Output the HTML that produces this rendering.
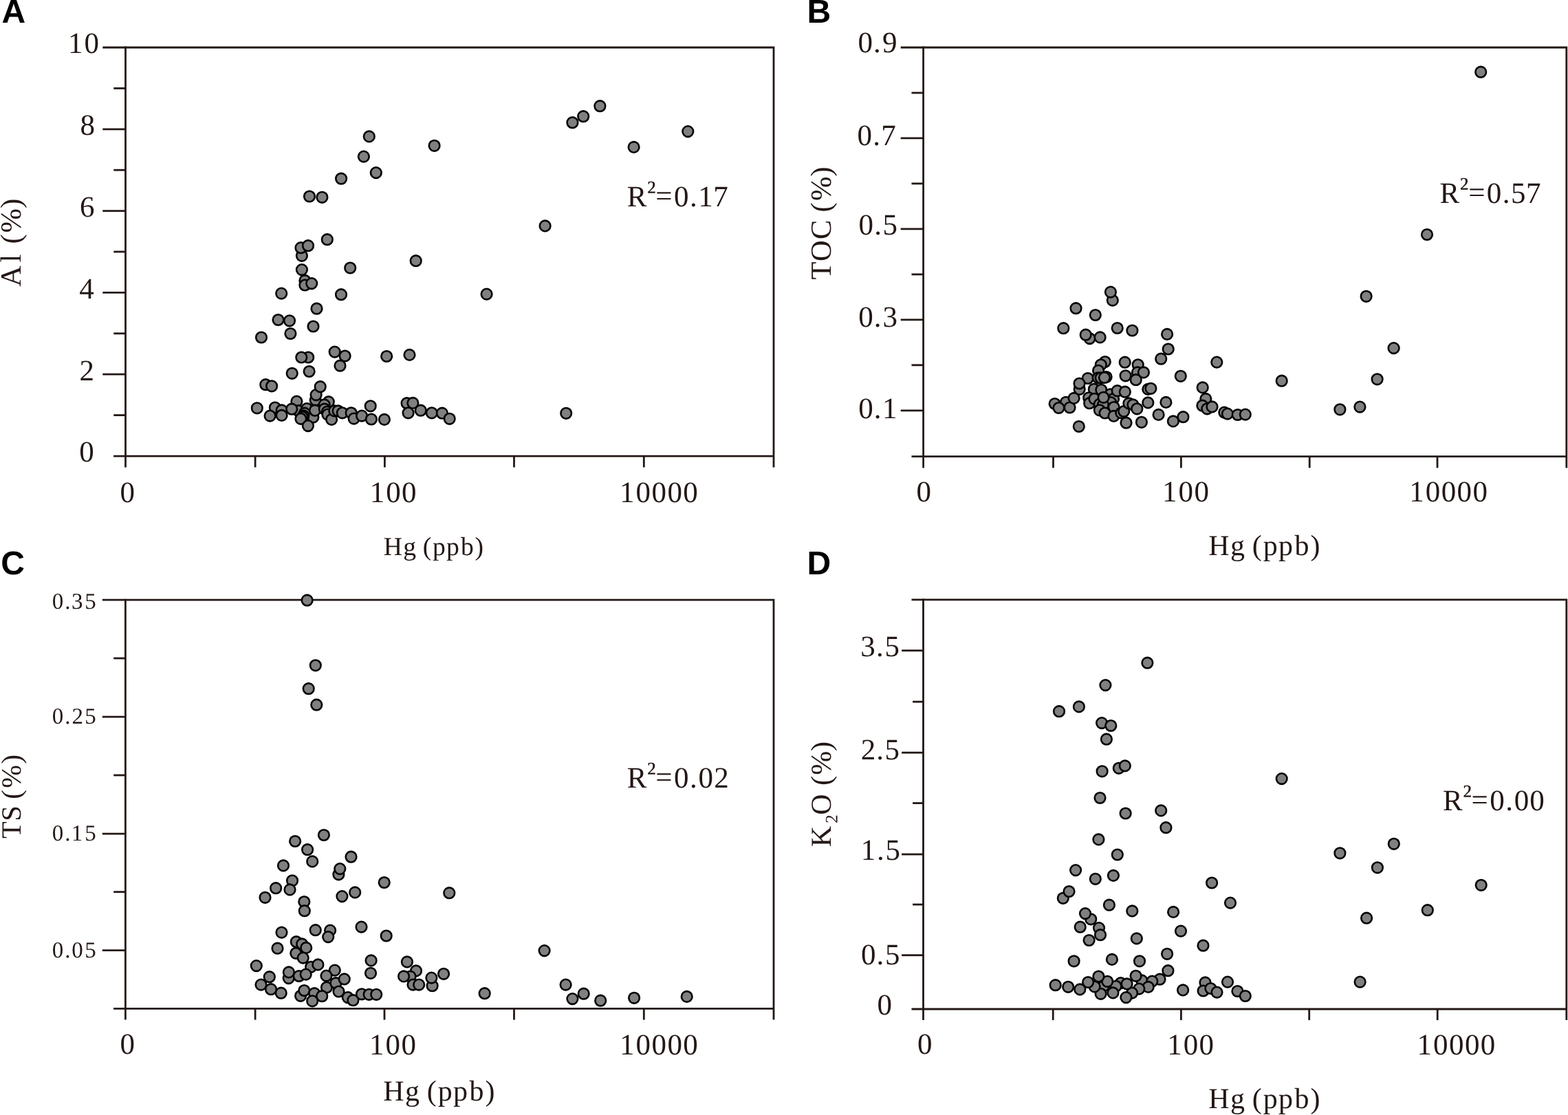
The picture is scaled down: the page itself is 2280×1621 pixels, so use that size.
<!DOCTYPE html>
<html lang="en"><head><meta charset="utf-8"><title>Hg correlations</title>
<style>
html,body{margin:0;padding:0;background:#fff}
body{width:2280px;height:1621px;overflow:hidden}
svg{display:block}
text{white-space:pre;text-rendering:geometricPrecision}
</style></head>
<body>
<svg width="2280" height="1621" viewBox="0 0 2280 1621">
<rect width="2280" height="1621" fill="#fff"/>
<g fill="none" stroke="#231815" stroke-width="2.8">
<path d="M149.3 69.0H1125.0V679.4" />
<path d="M182.5 67.6V679.4" />
<path d="M165.1 663.2H1125.0" />
<path d="M149.3 187.8H182.5"/>
<path d="M149.3 306.6H182.5"/>
<path d="M149.3 425.4H182.5"/>
<path d="M149.3 544.2H182.5"/>
<path d="M165.3 128.4H182.5"/>
<path d="M165.3 247.2H182.5"/>
<path d="M165.3 366.0H182.5"/>
<path d="M165.3 484.8H182.5"/>
<path d="M165.3 603.6H182.5"/>
<path d="M371.1 663.2V679.4"/>
<path d="M559.4 663.2V679.4"/>
<path d="M747.5 663.2V679.4"/>
<path d="M936.3 663.2V679.4"/>
<path d="M1309.7 69.0H2277.8V680.2" />
<path d="M1342.6 67.6V680.2" />
<path d="M1325.5 663.6H2277.8" />
<path d="M1309.7 200.9H1342.6"/>
<path d="M1309.7 332.9H1342.6"/>
<path d="M1309.7 464.9H1342.6"/>
<path d="M1309.7 596.8H1342.6"/>
<path d="M1325.5 135.0H1342.6"/>
<path d="M1325.5 266.9H1342.6"/>
<path d="M1325.5 398.9H1342.6"/>
<path d="M1325.5 530.8H1342.6"/>
<path d="M1531.5 663.6V680.2"/>
<path d="M1717.4 663.6V680.2"/>
<path d="M1904.2 663.6V680.2"/>
<path d="M2090.0 663.6V680.2"/>
<path d="M148.8 872.1H1125.0V1482.6" />
<path d="M182.4 870.7V1482.6" />
<path d="M165.0 1466.4H1125.0" />
<path d="M148.8 1042.1H182.4"/>
<path d="M148.8 1212.1H182.4"/>
<path d="M148.8 1381.6H182.4"/>
<path d="M165.2 957.0H182.4"/>
<path d="M165.2 1127.0H182.4"/>
<path d="M165.2 1296.7H182.4"/>
<path d="M371.1 1466.4V1482.6"/>
<path d="M559.0 1466.4V1482.6"/>
<path d="M747.5 1466.4V1482.6"/>
<path d="M936.3 1466.4V1482.6"/>
<path d="M1325.5 871.9H2277.8V1483.1" />
<path d="M1342.5 870.5V1483.1" />
<path d="M1325.5 1467.0H2277.8" />
<path d="M1311.1 945.8H1342.5"/>
<path d="M1311.1 1094.2H1342.5"/>
<path d="M1311.1 1242.0H1342.5"/>
<path d="M1311.1 1388.7H1342.5"/>
<path d="M1327.1 1020.2H1342.5"/>
<path d="M1327.1 1167.6H1342.5"/>
<path d="M1327.1 1315.0H1342.5"/>
<path d="M1531.2 1467.0V1483.1"/>
<path d="M1717.4 1467.0V1483.1"/>
<path d="M1903.7 1467.0V1483.1"/>
<path d="M2090.2 1467.0V1483.1"/>
</g>
<g fill="#808080" stroke="#050202" stroke-width="2.6">
<circle cx="536.8" cy="198.4" r="7.8"/>
<circle cx="528.9" cy="227.6" r="7.8"/>
<circle cx="546.8" cy="251.1" r="7.8"/>
<circle cx="496.1" cy="259.7" r="7.8"/>
<circle cx="450.0" cy="285.5" r="7.8"/>
<circle cx="468.4" cy="286.8" r="7.8"/>
<circle cx="475.8" cy="348.2" r="7.8"/>
<circle cx="438.9" cy="392.1" r="7.8"/>
<circle cx="438.9" cy="371.8" r="7.8"/>
<circle cx="437.5" cy="360.2" r="7.8"/>
<circle cx="448.0" cy="357.2" r="7.8"/>
<circle cx="509.2" cy="389.5" r="7.8"/>
<circle cx="604.7" cy="379.2" r="7.8"/>
<circle cx="631.6" cy="211.8" r="7.8"/>
<circle cx="832.4" cy="178.2" r="7.8"/>
<circle cx="848.2" cy="169.2" r="7.8"/>
<circle cx="872.4" cy="154.2" r="7.8"/>
<circle cx="921.6" cy="213.9" r="7.8"/>
<circle cx="1000.3" cy="191.1" r="7.8"/>
<circle cx="792.6" cy="328.4" r="7.8"/>
<circle cx="443.4" cy="407.9" r="7.8"/>
<circle cx="443.4" cy="414.5" r="7.8"/>
<circle cx="453.2" cy="412.1" r="7.8"/>
<circle cx="409.2" cy="426.6" r="7.8"/>
<circle cx="496.0" cy="428.2" r="7.8"/>
<circle cx="460.5" cy="448.7" r="7.8"/>
<circle cx="404.5" cy="465.0" r="7.8"/>
<circle cx="421.0" cy="466.3" r="7.8"/>
<circle cx="455.5" cy="474.5" r="7.8"/>
<circle cx="422.4" cy="485.0" r="7.8"/>
<circle cx="380.0" cy="490.5" r="7.8"/>
<circle cx="707.6" cy="427.6" r="7.8"/>
<circle cx="448.2" cy="519.5" r="7.8"/>
<circle cx="438.3" cy="519.5" r="7.8"/>
<circle cx="486.7" cy="511.6" r="7.8"/>
<circle cx="501.6" cy="517.5" r="7.8"/>
<circle cx="494.5" cy="531.7" r="7.8"/>
<circle cx="562.2" cy="518.0" r="7.8"/>
<circle cx="595.5" cy="515.9" r="7.8"/>
<circle cx="424.7" cy="542.8" r="7.8"/>
<circle cx="449.6" cy="540.0" r="7.8"/>
<circle cx="386.3" cy="559.2" r="7.8"/>
<circle cx="395.1" cy="561.3" r="7.8"/>
<circle cx="458.7" cy="581.6" r="7.8"/>
<circle cx="459.6" cy="574.1" r="7.8"/>
<circle cx="465.7" cy="562.2" r="7.8"/>
<circle cx="431.4" cy="583.6" r="7.8"/>
<circle cx="477.8" cy="584.2" r="7.8"/>
<circle cx="471.6" cy="588.4" r="7.8"/>
<circle cx="538.7" cy="590.3" r="7.8"/>
<circle cx="591.6" cy="586.2" r="7.8"/>
<circle cx="600.4" cy="585.9" r="7.8"/>
<circle cx="373.8" cy="593.3" r="7.8"/>
<circle cx="399.9" cy="592.5" r="7.8"/>
<circle cx="409.7" cy="596.4" r="7.8"/>
<circle cx="392.6" cy="604.6" r="7.8"/>
<circle cx="409.6" cy="603.9" r="7.8"/>
<circle cx="433.8" cy="597.2" r="7.8"/>
<circle cx="446.2" cy="594.1" r="7.8"/>
<circle cx="442.9" cy="600.7" r="7.8"/>
<circle cx="424.2" cy="594.7" r="7.8"/>
<circle cx="455.4" cy="606.6" r="7.8"/>
<circle cx="441.4" cy="604.4" r="7.8"/>
<circle cx="439.6" cy="606.2" r="7.8"/>
<circle cx="437.4" cy="608.8" r="7.8"/>
<circle cx="458.0" cy="596.7" r="7.8"/>
<circle cx="447.9" cy="619.1" r="7.8"/>
<circle cx="471.8" cy="594.7" r="7.8"/>
<circle cx="475.8" cy="598.7" r="7.8"/>
<circle cx="476.4" cy="602.6" r="7.8"/>
<circle cx="482.1" cy="609.9" r="7.8"/>
<circle cx="486.3" cy="597.4" r="7.8"/>
<circle cx="491.6" cy="597.4" r="7.8"/>
<circle cx="497.8" cy="600.3" r="7.8"/>
<circle cx="510.7" cy="600.3" r="7.8"/>
<circle cx="514.6" cy="608.6" r="7.8"/>
<circle cx="526.1" cy="604.6" r="7.8"/>
<circle cx="539.9" cy="609.5" r="7.8"/>
<circle cx="558.9" cy="609.9" r="7.8"/>
<circle cx="593.6" cy="600.3" r="7.8"/>
<circle cx="611.7" cy="596.7" r="7.8"/>
<circle cx="627.8" cy="600.3" r="7.8"/>
<circle cx="642.9" cy="600.7" r="7.8"/>
<circle cx="653.7" cy="608.8" r="7.8"/>
<circle cx="823.2" cy="600.8" r="7.8"/>
</g>
<g fill="#808080" stroke="#050202" stroke-width="2.6">
<circle cx="1617.8" cy="436.6" r="7.8"/>
<circle cx="1614.9" cy="424.6" r="7.8"/>
<circle cx="1564.5" cy="448.2" r="7.8"/>
<circle cx="1592.8" cy="458.0" r="7.8"/>
<circle cx="1546.3" cy="477.2" r="7.8"/>
<circle cx="1624.7" cy="477.0" r="7.8"/>
<circle cx="1646.4" cy="480.5" r="7.8"/>
<circle cx="1584.5" cy="492.1" r="7.8"/>
<circle cx="1578.7" cy="486.7" r="7.8"/>
<circle cx="1599.6" cy="490.4" r="7.8"/>
<circle cx="1697.1" cy="485.9" r="7.8"/>
<circle cx="1698.7" cy="507.5" r="7.8"/>
<circle cx="1688.2" cy="521.7" r="7.8"/>
<circle cx="1769.3" cy="526.6" r="7.8"/>
<circle cx="1606.8" cy="526.0" r="7.8"/>
<circle cx="1600.8" cy="530.3" r="7.8"/>
<circle cx="1597.1" cy="538.8" r="7.8"/>
<circle cx="1635.7" cy="526.7" r="7.8"/>
<circle cx="1654.7" cy="530.3" r="7.8"/>
<circle cx="1654.0" cy="541.4" r="7.8"/>
<circle cx="1662.9" cy="541.4" r="7.8"/>
<circle cx="1636.6" cy="546.3" r="7.8"/>
<circle cx="1651.7" cy="552.2" r="7.8"/>
<circle cx="1716.8" cy="546.8" r="7.8"/>
<circle cx="1581.8" cy="550.0" r="7.8"/>
<circle cx="1596.7" cy="549.3" r="7.8"/>
<circle cx="1600.7" cy="549.3" r="7.8"/>
<circle cx="1608.6" cy="548.0" r="7.8"/>
<circle cx="1605.9" cy="549.0" r="7.8"/>
<circle cx="1569.7" cy="565.8" r="7.8"/>
<circle cx="1569.5" cy="557.5" r="7.8"/>
<circle cx="1590.8" cy="565.8" r="7.8"/>
<circle cx="1601.3" cy="566.8" r="7.8"/>
<circle cx="1614.5" cy="573.3" r="7.8"/>
<circle cx="1619.1" cy="579.9" r="7.8"/>
<circle cx="1624.7" cy="568.2" r="7.8"/>
<circle cx="1635.8" cy="569.7" r="7.8"/>
<circle cx="1669.3" cy="565.9" r="7.8"/>
<circle cx="1673.4" cy="564.8" r="7.8"/>
<circle cx="1748.7" cy="563.4" r="7.8"/>
<circle cx="1533.7" cy="587.0" r="7.8"/>
<circle cx="1550.0" cy="584.8" r="7.8"/>
<circle cx="1539.5" cy="593.0" r="7.8"/>
<circle cx="1555.5" cy="592.5" r="7.8"/>
<circle cx="1561.6" cy="578.9" r="7.8"/>
<circle cx="1583.2" cy="578.3" r="7.8"/>
<circle cx="1584.2" cy="586.2" r="7.8"/>
<circle cx="1591.4" cy="579.8" r="7.8"/>
<circle cx="1615.1" cy="585.1" r="7.8"/>
<circle cx="1598.7" cy="587.8" r="7.8"/>
<circle cx="1603.9" cy="588.4" r="7.8"/>
<circle cx="1604.6" cy="577.8" r="7.8"/>
<circle cx="1619.7" cy="592.0" r="7.8"/>
<circle cx="1598.9" cy="596.3" r="7.8"/>
<circle cx="1606.6" cy="600.5" r="7.8"/>
<circle cx="1619.5" cy="604.9" r="7.8"/>
<circle cx="1630.3" cy="600.3" r="7.8"/>
<circle cx="1634.2" cy="598.0" r="7.8"/>
<circle cx="1641.4" cy="586.4" r="7.8"/>
<circle cx="1647.4" cy="588.4" r="7.8"/>
<circle cx="1653.3" cy="594.3" r="7.8"/>
<circle cx="1669.3" cy="585.4" r="7.8"/>
<circle cx="1695.4" cy="584.9" r="7.8"/>
<circle cx="1684.6" cy="602.9" r="7.8"/>
<circle cx="1637.5" cy="614.7" r="7.8"/>
<circle cx="1659.9" cy="613.8" r="7.8"/>
<circle cx="1705.9" cy="612.4" r="7.8"/>
<circle cx="1720.4" cy="606.2" r="7.8"/>
<circle cx="1568.8" cy="620.0" r="7.8"/>
<circle cx="1753.3" cy="579.9" r="7.8"/>
<circle cx="1748.4" cy="589.7" r="7.8"/>
<circle cx="1755.3" cy="594.3" r="7.8"/>
<circle cx="1762.5" cy="591.4" r="7.8"/>
<circle cx="1780.3" cy="599.6" r="7.8"/>
<circle cx="1784.9" cy="601.6" r="7.8"/>
<circle cx="1799.7" cy="603.0" r="7.8"/>
<circle cx="1810.8" cy="602.6" r="7.8"/>
<circle cx="1863.7" cy="553.7" r="7.8"/>
<circle cx="1948.4" cy="595.3" r="7.8"/>
<circle cx="1977.4" cy="591.6" r="7.8"/>
<circle cx="2002.6" cy="551.3" r="7.8"/>
<circle cx="2026.6" cy="506.1" r="7.8"/>
<circle cx="1986.6" cy="430.8" r="7.8"/>
<circle cx="2075.0" cy="341.0" r="7.8"/>
<circle cx="2153.2" cy="104.7" r="7.8"/>
</g>
<g fill="#808080" stroke="#050202" stroke-width="2.6">
<circle cx="446.6" cy="872.7" r="7.8"/>
<circle cx="458.8" cy="967.3" r="7.8"/>
<circle cx="448.7" cy="1001.2" r="7.8"/>
<circle cx="460.3" cy="1024.7" r="7.8"/>
<circle cx="470.9" cy="1214.0" r="7.8"/>
<circle cx="429.1" cy="1223.0" r="7.8"/>
<circle cx="447.1" cy="1235.2" r="7.8"/>
<circle cx="454.2" cy="1252.4" r="7.8"/>
<circle cx="412.0" cy="1258.4" r="7.8"/>
<circle cx="510.5" cy="1245.7" r="7.8"/>
<circle cx="492.4" cy="1271.3" r="7.8"/>
<circle cx="494.3" cy="1263.1" r="7.8"/>
<circle cx="425.0" cy="1280.3" r="7.8"/>
<circle cx="421.5" cy="1293.4" r="7.8"/>
<circle cx="401.1" cy="1291.2" r="7.8"/>
<circle cx="385.5" cy="1304.8" r="7.8"/>
<circle cx="558.7" cy="1283.0" r="7.8"/>
<circle cx="516.2" cy="1297.4" r="7.8"/>
<circle cx="497.4" cy="1303.1" r="7.8"/>
<circle cx="653.3" cy="1298.2" r="7.8"/>
<circle cx="442.3" cy="1311.0" r="7.8"/>
<circle cx="442.8" cy="1324.2" r="7.8"/>
<circle cx="525.5" cy="1347.6" r="7.8"/>
<circle cx="458.7" cy="1352.2" r="7.8"/>
<circle cx="480.1" cy="1352.6" r="7.8"/>
<circle cx="477.2" cy="1362.1" r="7.8"/>
<circle cx="409.5" cy="1355.6" r="7.8"/>
<circle cx="561.7" cy="1360.5" r="7.8"/>
<circle cx="430.8" cy="1369.2" r="7.8"/>
<circle cx="439.2" cy="1372.4" r="7.8"/>
<circle cx="445.2" cy="1377.9" r="7.8"/>
<circle cx="403.5" cy="1378.7" r="7.8"/>
<circle cx="430.3" cy="1385.8" r="7.8"/>
<circle cx="440.7" cy="1392.6" r="7.8"/>
<circle cx="372.8" cy="1404.1" r="7.8"/>
<circle cx="452.1" cy="1405.8" r="7.8"/>
<circle cx="462.4" cy="1402.4" r="7.8"/>
<circle cx="539.6" cy="1396.4" r="7.8"/>
<circle cx="591.9" cy="1398.4" r="7.8"/>
<circle cx="486.8" cy="1410.6" r="7.8"/>
<circle cx="539.0" cy="1414.8" r="7.8"/>
<circle cx="605.0" cy="1411.4" r="7.8"/>
<circle cx="645.1" cy="1415.8" r="7.8"/>
<circle cx="419.7" cy="1422.1" r="7.8"/>
<circle cx="419.9" cy="1413.4" r="7.8"/>
<circle cx="434.7" cy="1419.0" r="7.8"/>
<circle cx="444.7" cy="1416.6" r="7.8"/>
<circle cx="391.8" cy="1420.2" r="7.8"/>
<circle cx="475.0" cy="1435.5" r="7.8"/>
<circle cx="474.5" cy="1418.6" r="7.8"/>
<circle cx="488.4" cy="1429.2" r="7.8"/>
<circle cx="500.7" cy="1423.4" r="7.8"/>
<circle cx="596.6" cy="1419.7" r="7.8"/>
<circle cx="587.1" cy="1419.4" r="7.8"/>
<circle cx="628.6" cy="1433.2" r="7.8"/>
<circle cx="627.4" cy="1421.6" r="7.8"/>
<circle cx="600.5" cy="1431.6" r="7.8"/>
<circle cx="609.2" cy="1431.6" r="7.8"/>
<circle cx="379.5" cy="1431.6" r="7.8"/>
<circle cx="394.0" cy="1438.2" r="7.8"/>
<circle cx="408.7" cy="1443.7" r="7.8"/>
<circle cx="437.1" cy="1447.8" r="7.8"/>
<circle cx="442.3" cy="1440.0" r="7.8"/>
<circle cx="457.2" cy="1444.2" r="7.8"/>
<circle cx="454.2" cy="1455.3" r="7.8"/>
<circle cx="468.2" cy="1448.2" r="7.8"/>
<circle cx="492.5" cy="1441.5" r="7.8"/>
<circle cx="505.8" cy="1450.1" r="7.8"/>
<circle cx="513.4" cy="1454.2" r="7.8"/>
<circle cx="526.0" cy="1445.3" r="7.8"/>
<circle cx="536.6" cy="1445.8" r="7.8"/>
<circle cx="547.2" cy="1445.8" r="7.8"/>
<circle cx="704.7" cy="1444.2" r="7.8"/>
<circle cx="791.6" cy="1382.1" r="7.8"/>
<circle cx="822.6" cy="1431.6" r="7.8"/>
<circle cx="832.4" cy="1452.1" r="7.8"/>
<circle cx="848.7" cy="1444.7" r="7.8"/>
<circle cx="873.2" cy="1454.7" r="7.8"/>
<circle cx="922.1" cy="1450.8" r="7.8"/>
<circle cx="998.7" cy="1448.9" r="7.8"/>
</g>
<g fill="#808080" stroke="#050202" stroke-width="2.6">
<circle cx="1668.4" cy="963.7" r="7.8"/>
<circle cx="1607.4" cy="996.1" r="7.8"/>
<circle cx="1568.9" cy="1027.4" r="7.8"/>
<circle cx="1540.0" cy="1034.2" r="7.8"/>
<circle cx="1602.1" cy="1051.1" r="7.8"/>
<circle cx="1615.3" cy="1055.0" r="7.8"/>
<circle cx="1608.9" cy="1074.7" r="7.8"/>
<circle cx="1626.8" cy="1116.8" r="7.8"/>
<circle cx="1635.8" cy="1113.4" r="7.8"/>
<circle cx="1602.6" cy="1121.3" r="7.8"/>
<circle cx="1599.5" cy="1160.0" r="7.8"/>
<circle cx="1636.6" cy="1182.5" r="7.8"/>
<circle cx="1688.2" cy="1178.4" r="7.8"/>
<circle cx="1695.4" cy="1203.2" r="7.8"/>
<circle cx="1597.4" cy="1220.4" r="7.8"/>
<circle cx="1624.8" cy="1242.5" r="7.8"/>
<circle cx="1564.1" cy="1265.1" r="7.8"/>
<circle cx="1592.8" cy="1277.8" r="7.8"/>
<circle cx="1618.9" cy="1272.9" r="7.8"/>
<circle cx="1762.1" cy="1283.5" r="7.8"/>
<circle cx="1545.8" cy="1305.8" r="7.8"/>
<circle cx="1554.5" cy="1296.0" r="7.8"/>
<circle cx="1612.9" cy="1315.7" r="7.8"/>
<circle cx="1646.3" cy="1324.4" r="7.8"/>
<circle cx="1706.1" cy="1325.9" r="7.8"/>
<circle cx="1789.0" cy="1312.6" r="7.8"/>
<circle cx="1586.2" cy="1336.3" r="7.8"/>
<circle cx="1578.0" cy="1328.1" r="7.8"/>
<circle cx="1570.7" cy="1347.7" r="7.8"/>
<circle cx="1598.0" cy="1349.1" r="7.8"/>
<circle cx="1600.0" cy="1359.2" r="7.8"/>
<circle cx="1583.6" cy="1367.0" r="7.8"/>
<circle cx="1652.8" cy="1364.4" r="7.8"/>
<circle cx="1717.0" cy="1353.6" r="7.8"/>
<circle cx="1749.5" cy="1374.7" r="7.8"/>
<circle cx="1697.1" cy="1386.8" r="7.8"/>
<circle cx="1561.6" cy="1397.3" r="7.8"/>
<circle cx="1616.9" cy="1394.9" r="7.8"/>
<circle cx="1657.0" cy="1397.3" r="7.8"/>
<circle cx="1698.4" cy="1411.2" r="7.8"/>
<circle cx="1660.3" cy="1425.4" r="7.8"/>
<circle cx="1651.6" cy="1418.8" r="7.8"/>
<circle cx="1686.5" cy="1423.7" r="7.8"/>
<circle cx="1675.3" cy="1426.6" r="7.8"/>
<circle cx="1669.7" cy="1434.9" r="7.8"/>
<circle cx="1656.3" cy="1437.6" r="7.8"/>
<circle cx="1646.1" cy="1443.6" r="7.8"/>
<circle cx="1629.6" cy="1429.1" r="7.8"/>
<circle cx="1638.6" cy="1430.4" r="7.8"/>
<circle cx="1637.4" cy="1450.1" r="7.8"/>
<circle cx="1622.6" cy="1433.8" r="7.8"/>
<circle cx="1618.4" cy="1443.4" r="7.8"/>
<circle cx="1605.0" cy="1433.5" r="7.8"/>
<circle cx="1600.6" cy="1444.8" r="7.8"/>
<circle cx="1610.2" cy="1426.8" r="7.8"/>
<circle cx="1591.6" cy="1434.4" r="7.8"/>
<circle cx="1582.1" cy="1428.0" r="7.8"/>
<circle cx="1597.4" cy="1419.5" r="7.8"/>
<circle cx="1570.3" cy="1438.4" r="7.8"/>
<circle cx="1553.2" cy="1434.8" r="7.8"/>
<circle cx="1534.7" cy="1432.2" r="7.8"/>
<circle cx="1720.1" cy="1439.4" r="7.8"/>
<circle cx="1752.5" cy="1428.4" r="7.8"/>
<circle cx="1749.6" cy="1440.5" r="7.8"/>
<circle cx="1760.4" cy="1437.0" r="7.8"/>
<circle cx="1769.5" cy="1442.6" r="7.8"/>
<circle cx="1785.0" cy="1427.6" r="7.8"/>
<circle cx="1799.4" cy="1441.0" r="7.8"/>
<circle cx="1810.8" cy="1448.0" r="7.8"/>
<circle cx="1863.7" cy="1132.1" r="7.8"/>
<circle cx="1948.4" cy="1240.3" r="7.8"/>
<circle cx="2002.9" cy="1261.3" r="7.8"/>
<circle cx="2026.8" cy="1226.8" r="7.8"/>
<circle cx="2153.7" cy="1286.8" r="7.8"/>
<circle cx="2075.8" cy="1323.2" r="7.8"/>
<circle cx="1987.1" cy="1334.7" r="7.8"/>
<circle cx="1977.6" cy="1427.6" r="7.8"/>
</g>
<g fill="#231815" font-family="'Liberation Serif', serif" style="white-space:pre">
<text x="98.90 122.40" y="77.0" font-size="43">10</text>
<text x="116.60" y="196.0" font-size="43">8</text>
<text x="115.92" y="315.0" font-size="43">6</text>
<text x="115.21" y="433.8" font-size="43">4</text>
<text x="115.44" y="552.6" font-size="43">2</text>
<text x="115.30" y="671.0" font-size="43">0</text>
<text x="174.40" y="729.5" font-size="43">0</text>
<text x="537.70 561.20 584.10" y="729.5" font-size="43">100</text>
<text x="901.10 924.60 947.50 970.40 993.30" y="729.5" font-size="43">10000</text>
<text x="557.65 586.19 604.94 614.63 628.96 649.05 669.97 690.61" y="806.7" font-size="37.7">Hg (ppb)</text>
<text x="1247.40 1270.06 1283.09" y="75.7" font-size="43">0.9</text>
<text x="1246.60 1269.26 1281.30" y="211.0" font-size="43">0.7</text>
<text x="1248.50 1271.16 1283.59" y="341.4" font-size="43">0.5</text>
<text x="1248.20 1270.86 1283.51" y="474.5" font-size="43">0.3</text>
<text x="1248.20 1270.86 1283.10" y="608.0" font-size="43">0.1</text>
<text x="1332.40" y="729.0" font-size="43">0</text>
<text x="1690.10 1713.60 1736.50" y="729.2" font-size="43">100</text>
<text x="2049.30 2072.80 2095.70 2118.60 2141.50" y="729.0" font-size="43">10000</text>
<text x="1757.19 1789.00 1809.90 1820.71 1836.68 1859.08 1882.40 1905.41" y="806.8" font-size="42.0">Hg (ppb)</text>
<text x="75.85 94.32 104.10 123.24" y="885.3" font-size="33">0.35</text>
<text x="75.85 94.32 104.43 123.24" y="1052.3" font-size="33">0.25</text>
<text x="75.85 94.32 103.79 123.24" y="1222.3" font-size="33">0.15</text>
<text x="75.85 94.32 104.25 123.24" y="1392.0" font-size="33">0.05</text>
<text x="174.50" y="1532.3" font-size="43">0</text>
<text x="537.10 560.60 583.50" y="1532.6" font-size="43">100</text>
<text x="901.10 924.60 947.50 970.40 993.30" y="1532.6" font-size="43">10000</text>
<text x="557.19 589.00 609.90 620.70 636.68 659.08 682.40 705.41" y="1600.0" font-size="42.0">Hg (ppb)</text>
<text x="1251.21 1274.06 1286.49" y="954.2" font-size="43">3.5</text>
<text x="1251.74 1274.16 1286.59" y="1103.5" font-size="43">2.5</text>
<text x="1251.80 1275.06 1287.49" y="1250.0" font-size="43">1.5</text>
<text x="1251.90 1274.56 1286.99" y="1401.8" font-size="43">0.5</text>
<text x="1275.60" y="1474.7" font-size="43">0</text>
<text x="1334.10" y="1532.3" font-size="43">0</text>
<text x="1697.20 1720.70 1743.60" y="1532.6" font-size="43">100</text>
<text x="2060.60 2084.10 2107.00 2129.90 2152.80" y="1532.8" font-size="43">10000</text>
<text x="1757.19 1789.00 1809.90 1820.71 1836.68 1859.08 1882.40 1905.41" y="1610.5" font-size="42.0">Hg (ppb)</text>
<text x="911.75 940.69 953.35 980.00 1002.96 1015.20 1037.20" dy="0.00 -8.22 7.55 0.67 0.00 0.00 0.00" y="299.9" font-size="43">R²=0.17</text>
<text x="2093.55 2122.49 2135.15 2161.80 2184.76 2196.89 2219.00" dy="0.00 -8.22 7.55 0.67 0.00 0.00 0.00" y="295.1" font-size="43">R²=0.57</text>
<text x="911.75 940.69 953.35 980.00 1002.96 1015.50 1038.24" dy="0.00 -8.22 7.55 0.67 0.00 0.00 0.00" y="1145.1" font-size="43">R²=0.02</text>
<text x="2097.95 2126.88 2139.55 2166.20 2189.16 2201.70 2224.20" dy="0.00 -8.22 7.55 0.67 0.00 0.00 0.00" y="1178.1" font-size="43">R²=0.00</text>
<text transform="translate(29.8 411.0) rotate(-90)" x="-5.71 29.64 46.00 56.52 72.50 108.38" y="0" font-size="42.5">Al (%)</text>
<text transform="translate(1208.1 405.0) rotate(-90)" x="-1.55 24.96 57.12 86.00 96.62 112.90 148.58" y="0" font-size="42.5">TOC (%)</text>
<text transform="translate(29.6 1217.3) rotate(-90)" x="-1.59 23.49 45.00 55.61 71.68 106.70" y="0" font-size="40.5">TS (%)</text>
<text transform="translate(1207.8 1228.6) rotate(-90)" x="-2.66 30.49 43.89 76.00 86.70 101.91 136.71" dy="0.00 1.50 -1.50 0.00 0.00 0.00 0.00" y="0" font-size="42">K₂O (%)</text>
</g>
<g fill="#000" font-family="'Liberation Sans', sans-serif" font-weight="700" font-size="48">
<text x="2.50" y="32.9">A</text>
<text x="1173.58" y="32.9">B</text>
<text x="1.33" y="834.7">C</text>
<text x="1173.58" y="835.0">D</text>
</g>
</svg>
</body></html>
